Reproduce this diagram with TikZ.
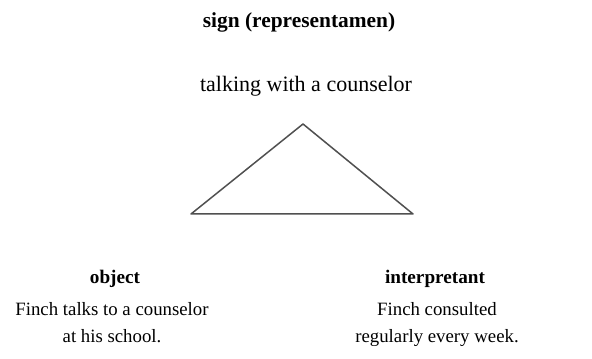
\documentclass[tikz,border=0pt]{standalone}
\usepackage{fontspec}
\setmainfont{Liberation Serif}
\usetikzlibrary{positioning}
\definecolor{Edge}{HTML}{505050}

\begin{document}
\begin{tikzpicture}[x=0.5pt,y=0.5pt,
    head/.style={font=\fontsize{9.6}{12}\selectfont\bfseries,anchor=base,inner sep=0pt},
    gloss/.style={font=\fontsize{9.4}{13.5}\selectfont,anchor=base,inner sep=0pt,align=center}]
  \useasboundingbox (0,0) rectangle (592,358);
  % sign corner
  \node[head,font=\fontsize{10.7}{13}\selectfont\bfseries] (sign) at (299,330) {sign (representamen)};
  \node[gloss,font=\fontsize{11}{13.5}\selectfont] (signtext) at (306,266) {talking with a counselor};
  % triangle
  \coordinate (apex) at (303,234);
  \coordinate (left) at (191,144);
  \coordinate (right) at (413,144);
  \draw[Edge,line width=0.75pt,line join=round] (apex) -- (right) -- (left) -- cycle;
  % object corner
  \node[head] (object) at (115,75) {object};
  \node[gloss,anchor=north] (objtext) at (112,56) {Finch talks to a counselor\\at his school.};
  % interpretant corner
  \node[head] (interp) at (435,75) {interpretant};
  \node[gloss,anchor=north] (inttext) at (437,56) {Finch consulted\\regularly every week.};
\end{tikzpicture}
\end{document}
